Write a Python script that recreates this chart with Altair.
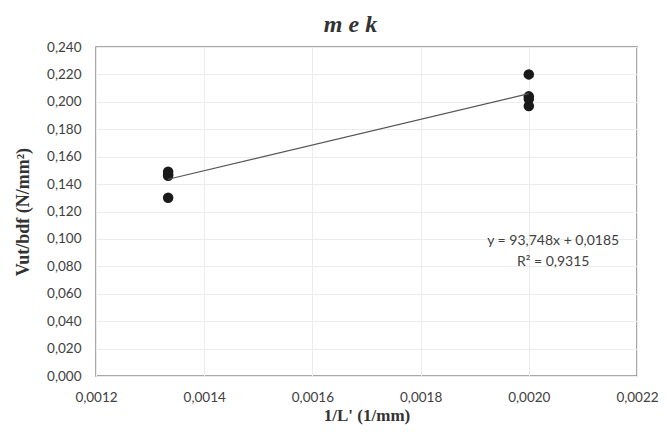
import altair as alt
import pandas as pd

# data
x_left = 1 / 750
x_right = 1 / 500
y_left = [0.149, 0.147, 0.146, 0.130]
y_right = [0.220, 0.204, 0.202, 0.197]
slope = 93.748
intercept = 0.0185
eq_lines = ["y = 93,748x + 0,0185", "R² = 0,9315"]
eq_x = [0.002045, 0.002045]
eq_y = [0.0985, 0.0830]
x_ticks = [0.0012, 0.0014, 0.0016, 0.0018, 0.0020, 0.0022]
y_ticks = [0.0, 0.02, 0.04, 0.06, 0.08, 0.10, 0.12, 0.14, 0.16, 0.18, 0.20, 0.22, 0.24]

pts = pd.DataFrame({
    "x": [x_left] * len(y_left) + [x_right] * len(y_right),
    "y": y_left + y_right,
})
fit = pd.DataFrame({
    "x": [x_left, x_right],
    "y": [slope * x_left + intercept, slope * x_right + intercept],
})
eq = pd.DataFrame({"x": eq_x, "y": eq_y, "t": eq_lines})

xscale = alt.Scale(domain=[0.0012, 0.0022], nice=False, zero=False)
yscale = alt.Scale(domain=[0, 0.24], nice=False)

xaxis = alt.Axis(
    values=x_ticks,
    labelExpr="replace(format(datum.value, '.4f'), '.', ',')",
    title="1/L' (1/mm)",
    titleFont="Liberation Serif", titleFontSize=17, titleFontWeight="bold",
    titleColor="#333333", titlePadding=4,
    labelFont="Lato", labelFontSize=13.5, labelColor="#404040", labelPadding=14,
    ticks=False, domain=False, grid=True, gridColor="#ececec",
    labelFlush=False, labelOverlap=False,
)
yaxis = alt.Axis(
    values=y_ticks,
    labelExpr="replace(format(datum.value, '.3f'), '.', ',')",
    title="Vut/bdf (N/mm²)",
    titleFont="Liberation Serif", titleFontSize=18, titleFontWeight="bold",
    titleColor="#333333", titlePadding=14,
    labelFont="Lato", labelFontSize=13.5, labelColor="#404040", labelPadding=15,
    ticks=False, domain=False, grid=True, gridColor="#ececec",
    labelOverlap=False,
)

X = alt.X("x:Q", scale=xscale, axis=xaxis)
Y = alt.Y("y:Q", scale=yscale, axis=yaxis)

points = alt.Chart(pts).mark_circle(size=110, color="#1a1a1a", opacity=1).encode(x=X, y=Y)
line = alt.Chart(fit).mark_line(color="#555555", strokeWidth=1.2).encode(x=X, y=Y)
text = alt.Chart(eq).mark_text(font="Lato", fontSize=14, color="#404040").encode(
    x=X, y=Y, text="t:N",
)

chart = alt.layer(points, line, text).properties(
    width=541,
    height=329,
    title=alt.TitleParams(
        "m e k", font="Liberation Serif", fontSize=24, fontStyle="italic",
        fontWeight="bold", color="#333333", anchor="middle", dx=-16, offset=3,
    ),
    autosize=alt.AutoSizeParams(type="none"),
    padding={"left": 88, "top": 39, "right": 22, "bottom": 50},
).configure_view(stroke="#8c8c8c", strokeWidth=1.5)

chart.save("out.html", embed_options={"renderer": "svg", "actions": False})
